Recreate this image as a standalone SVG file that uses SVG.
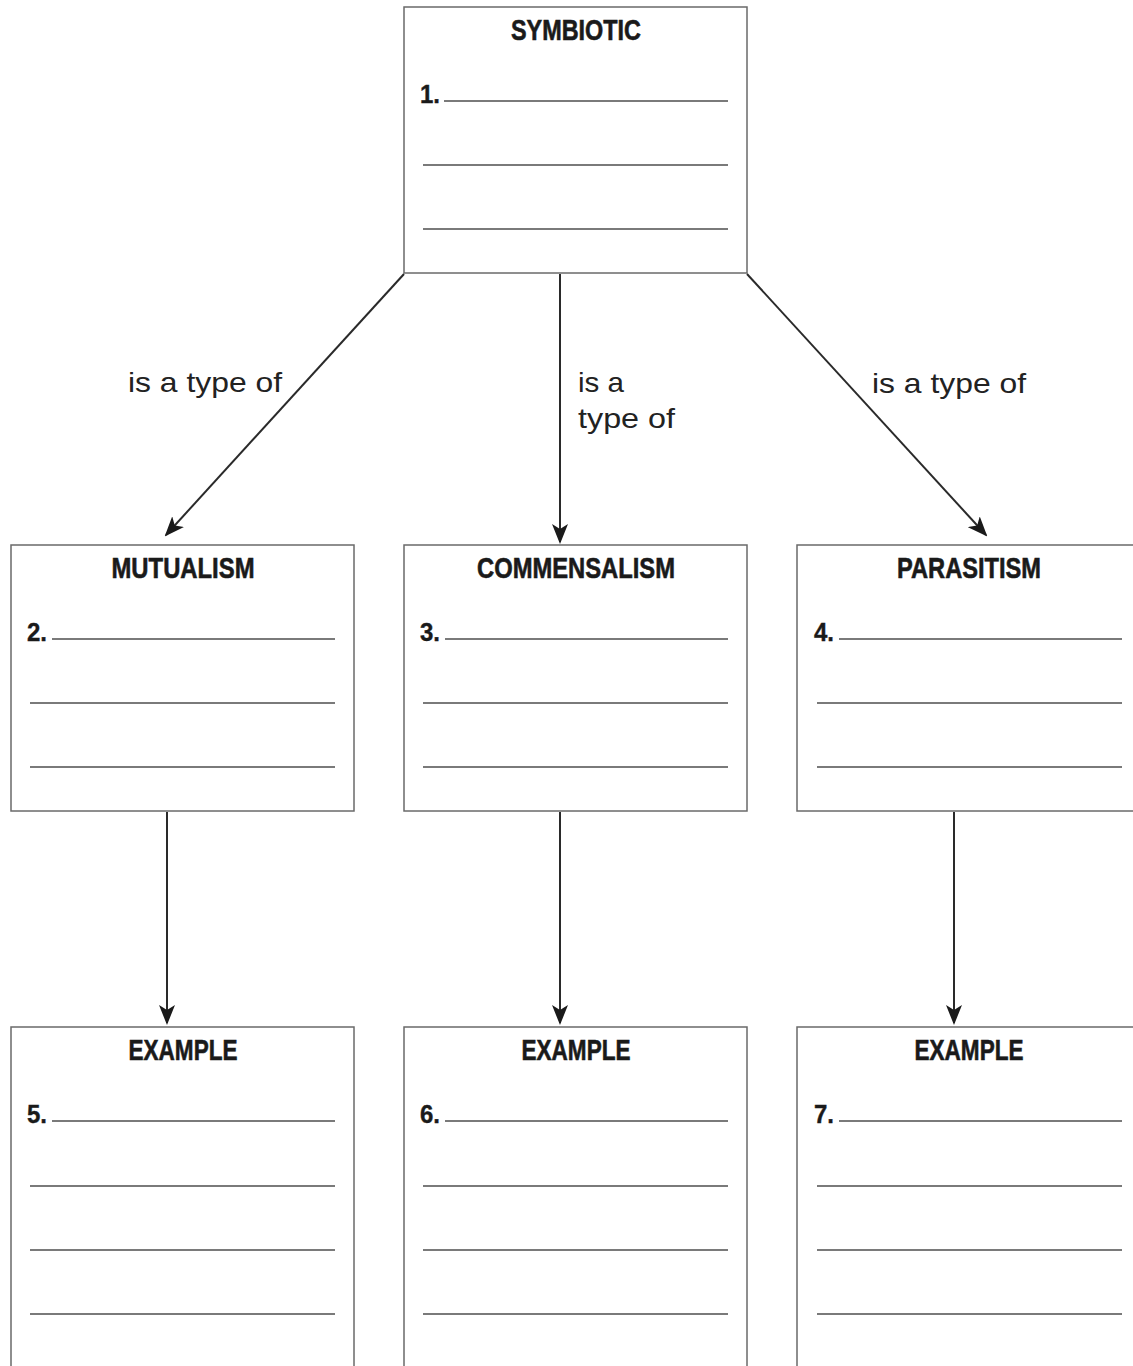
<svg xmlns="http://www.w3.org/2000/svg" width="1133" height="1366" viewBox="0 0 1133 1366">
<style>
.box{fill:#fff;stroke:#6a6a6a;stroke-width:1.5}
.ln{stroke:#7a7a7a;stroke-width:2}
.ttl{font-family:"Liberation Sans",Arial,sans-serif;font-weight:bold;font-size:29px;fill:#1a1a1a;stroke:#1a1a1a;stroke-width:0.6;text-anchor:middle}
.num{font-family:"Liberation Sans",Arial,sans-serif;font-weight:bold;font-size:26px;fill:#1a1a1a;stroke:#1a1a1a;stroke-width:0.4}
.lbl{font-family:"Liberation Sans",Arial,sans-serif;font-size:28px;fill:#222}
.con{stroke:#2a2a2a;stroke-width:2;fill:none;marker-end:url(#ah)}
</style>
<defs>
<marker id="ah" viewBox="0 0 20 16" refX="18" refY="8" markerWidth="20" markerHeight="16" markerUnits="userSpaceOnUse" orient="auto">
<path d="M0,0 L20,8 L0,16 L5,8 z" fill="#1a1a1a"/>
</marker>
</defs>
<rect width="1133" height="1366" fill="#fff"/>
<g id="symbiotic">
<rect class="box" x="404" y="7" width="343" height="266"/>
<text class="ttl" x="576" y="40" textLength="130" lengthAdjust="spacingAndGlyphs">SYMBIOTIC</text>
<text class="num" x="420" y="103" textLength="20" lengthAdjust="spacingAndGlyphs">1.</text>
<line class="ln" x1="444" y1="101" x2="728" y2="101"/>
<line class="ln" x1="423" y1="165" x2="728" y2="165"/>
<line class="ln" x1="423" y1="229" x2="728" y2="229"/>
</g>
<g id="mutualism">
<rect class="box" x="11" y="545" width="343" height="266"/>
<text class="ttl" x="183" y="578" textLength="143" lengthAdjust="spacingAndGlyphs">MUTUALISM</text>
<text class="num" x="27" y="641" textLength="20" lengthAdjust="spacingAndGlyphs">2.</text>
<line class="ln" x1="52" y1="639" x2="335" y2="639"/>
<line class="ln" x1="30" y1="703" x2="335" y2="703"/>
<line class="ln" x1="30" y1="767" x2="335" y2="767"/>
</g>
<g id="commensalism">
<rect class="box" x="404" y="545" width="343" height="266"/>
<text class="ttl" x="576" y="578" textLength="198" lengthAdjust="spacingAndGlyphs">COMMENSALISM</text>
<text class="num" x="420" y="641" textLength="20" lengthAdjust="spacingAndGlyphs">3.</text>
<line class="ln" x1="445" y1="639" x2="728" y2="639"/>
<line class="ln" x1="423" y1="703" x2="728" y2="703"/>
<line class="ln" x1="423" y1="767" x2="728" y2="767"/>
</g>
<g id="parasitism">
<rect class="box" x="797" y="545" width="345" height="266"/>
<text class="ttl" x="969" y="578" textLength="144" lengthAdjust="spacingAndGlyphs">PARASITISM</text>
<text class="num" x="814" y="641" textLength="20" lengthAdjust="spacingAndGlyphs">4.</text>
<line class="ln" x1="839" y1="639" x2="1122" y2="639"/>
<line class="ln" x1="817" y1="703" x2="1122" y2="703"/>
<line class="ln" x1="817" y1="767" x2="1122" y2="767"/>
</g>
<g id="example5">
<rect class="box" x="11" y="1027" width="343" height="360"/>
<text class="ttl" x="183" y="1060" textLength="109" lengthAdjust="spacingAndGlyphs">EXAMPLE</text>
<text class="num" x="27" y="1123" textLength="20" lengthAdjust="spacingAndGlyphs">5.</text>
<line class="ln" x1="52" y1="1121" x2="335" y2="1121"/>
<line class="ln" x1="30" y1="1186" x2="335" y2="1186"/>
<line class="ln" x1="30" y1="1250" x2="335" y2="1250"/>
<line class="ln" x1="30" y1="1314" x2="335" y2="1314"/>
</g>
<g id="example6">
<rect class="box" x="404" y="1027" width="343" height="360"/>
<text class="ttl" x="576" y="1060" textLength="109" lengthAdjust="spacingAndGlyphs">EXAMPLE</text>
<text class="num" x="420" y="1123" textLength="20" lengthAdjust="spacingAndGlyphs">6.</text>
<line class="ln" x1="445" y1="1121" x2="728" y2="1121"/>
<line class="ln" x1="423" y1="1186" x2="728" y2="1186"/>
<line class="ln" x1="423" y1="1250" x2="728" y2="1250"/>
<line class="ln" x1="423" y1="1314" x2="728" y2="1314"/>
</g>
<g id="example7">
<rect class="box" x="797" y="1027" width="345" height="360"/>
<text class="ttl" x="969" y="1060" textLength="109" lengthAdjust="spacingAndGlyphs">EXAMPLE</text>
<text class="num" x="814" y="1123" textLength="20" lengthAdjust="spacingAndGlyphs">7.</text>
<line class="ln" x1="839" y1="1121" x2="1122" y2="1121"/>
<line class="ln" x1="817" y1="1186" x2="1122" y2="1186"/>
<line class="ln" x1="817" y1="1250" x2="1122" y2="1250"/>
<line class="ln" x1="817" y1="1314" x2="1122" y2="1314"/>
</g>
<g id="connectors">
<line class="con" x1="404" y1="274" x2="166" y2="535"/>
<line class="con" x1="560" y1="274" x2="560" y2="542"/>
<line class="con" x1="747" y1="274" x2="986" y2="535"/>
<line class="con" x1="167" y1="812" x2="167" y2="1023"/>
<line class="con" x1="560" y1="812" x2="560" y2="1023"/>
<line class="con" x1="954" y1="812" x2="954" y2="1023"/>
<text class="lbl" x="128" y="392" textLength="154" lengthAdjust="spacingAndGlyphs">is a type of</text>
<text class="lbl" x="578" y="392" textLength="46" lengthAdjust="spacingAndGlyphs">is a</text>
<text class="lbl" x="578" y="428" textLength="97" lengthAdjust="spacingAndGlyphs">type of</text>
<text class="lbl" x="872" y="393" textLength="154" lengthAdjust="spacingAndGlyphs">is a type of</text>
</g>
</svg>
